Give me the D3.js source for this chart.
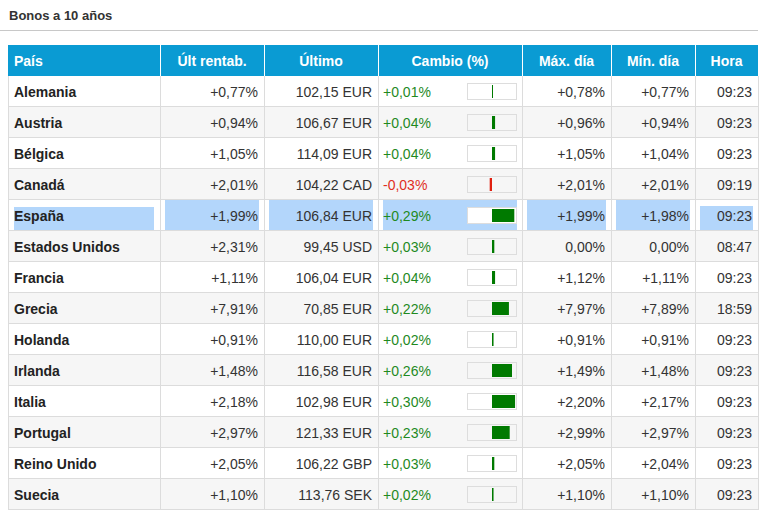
<!DOCTYPE html>
<html lang="es">
<head>
	<meta charset="utf-8">
	<title>Bonos a 10 años</title>
	<script src="https://d3js.org/d3.v7.min.js"></script>
	<style type="text/css">
		body { margin: 0; background: #fff; }
		svg text { font-family: "Liberation Sans", Arial, Helvetica, sans-serif; }
	</style>
</head>
<body>
<script type="text/javascript">

	var paises     = ["Alemania", "Austria", "Bélgica", "Canadá", "España", "Estados Unidos", "Francia",
	                  "Grecia", "Holanda", "Irlanda", "Italia", "Portugal", "Reino Unido", "Suecia"];
	var ultRentab  = ["+0,77%", "+0,94%", "+1,05%", "+2,01%", "+1,99%", "+2,31%", "+1,11%",
	                  "+7,91%", "+0,91%", "+1,48%", "+2,18%", "+2,97%", "+2,05%", "+1,10%"];
	var ultimo     = ["102,15 EUR", "106,67 EUR", "114,09 EUR", "104,22 CAD", "106,84 EUR", "99,45 USD", "106,04 EUR",
	                  "70,85 EUR", "110,00 EUR", "116,58 EUR", "102,98 EUR", "121,33 EUR", "106,22 GBP", "113,76 SEK"];
	var cambio     = [0.01, 0.04, 0.04, -0.03, 0.29, 0.03, 0.04, 0.22, 0.02, 0.26, 0.30, 0.23, 0.03, 0.02];
	var maxDia     = ["+0,78%", "+0,96%", "+1,05%", "+2,01%", "+1,99%", "0,00%", "+1,12%",
	                  "+7,97%", "+0,91%", "+1,49%", "+2,20%", "+2,99%", "+2,05%", "+1,10%"];
	var minDia     = ["+0,77%", "+0,94%", "+1,04%", "+2,01%", "+1,98%", "0,00%", "+1,11%",
	                  "+7,89%", "+0,91%", "+1,48%", "+2,17%", "+2,97%", "+2,04%", "+1,10%"];
	var hora       = ["09:23", "09:23", "09:23", "09:19", "09:23", "08:47", "09:23",
	                  "18:59", "09:23", "09:23", "09:23", "09:23", "09:23", "09:23"];
	var cabeceras  = ["País", "Últ rentab.", "Último", "Cambio (%)", "Máx. día", "Mín. día", "Hora"];
	var seleccion  = "España";

	// Layout
	var width = 764, height = 519;
	var colEdges = [8, 160, 264, 378, 522, 611, 695, 758];
	var headTop = 45, headH = 31, rowH = 31;
	var pad = 6;

	var svg = d3.select("body")
				.append("svg")
				.attr("width", width)
				.attr("height", height);

	// Title and rule
	svg.append("text")
		.attr("x", 9)
		.attr("y", 20)
		.style("font-size", "13px")
		.style("font-weight", "bold")
		.style("fill", "#333")
		.text("Bonos a 10 años");

	svg.append("line")
		.attr("x1", 0).attr("x2", 758)
		.attr("y1", 30.5).attr("y2", 30.5)
		.style("stroke", "#c8c8c8");

	// Row scale
	var yScale = d3.scaleBand()
		.domain(paises)
		.range([headTop + headH, headTop + headH + rowH * paises.length]);

	// Bar scale for Cambio (%) mini chart
	var boxX = colEdges[3] + 89, boxW = 50, boxH = 17;
	var xBar = d3.scaleLinear()
		.domain([-0.325, 0.325])
		.range([boxX, boxX + boxW]);

	/******** HEADER ************/
	svg.append("rect")
		.attr("x", colEdges[0])
		.attr("y", headTop)
		.attr("width", colEdges[7] - colEdges[0])
		.attr("height", headH)
		.style("fill", "#0a9bd3");

	svg.selectAll("line.hsep")
		.data(colEdges.slice(1, 7))
		.enter()
		.append("line")
		.attr("class", "hsep")
		.attr("x1", function(d) { return d + 0.5; })
		.attr("x2", function(d) { return d + 0.5; })
		.attr("y1", headTop)
		.attr("y2", headTop + headH)
		.style("stroke", "#fff");

	svg.selectAll("text.head")
		.data(cabeceras)
		.enter()
		.append("text")
		.attr("class", "head")
		.attr("x", function(d, i) {
			return i === 0 ? colEdges[0] + pad : (colEdges[i] + colEdges[i + 1]) / 2;
		})
		.attr("y", headTop + headH / 2 + 5)
		.attr("text-anchor", function(d, i) { return i === 0 ? "start" : "middle"; })
		.style("font-size", "14px")
		.style("font-weight", "bold")
		.style("fill", "#fff")
		.text(function(d) { return d; });

	/******** BODY ROWS ************/
	var rows = svg.selectAll("g.row")
		.data(paises)
		.enter()
		.append("g")
		.attr("class", "row")
		.attr("transform", function(d) { return "translate(0," + yScale(d) + ")"; });

	rows.append("rect")
		.attr("x", colEdges[0])
		.attr("width", colEdges[7] - colEdges[0])
		.attr("height", rowH)
		.style("fill", function(d, i) { return i % 2 === 1 ? "#f6f6f6" : "#fff"; });

	// Selection highlight (España)
	var sel = rows.filter(function(d) { return d === seleccion; });
	sel.selectAll("rect.hl")
		.data(d3.range(7))
		.enter()
		.append("rect")
		.attr("class", "hl")
		.attr("x", function(i) { return colEdges[i] + (i === 0 ? 6 : 5); })
		.attr("y", function(i) { return i === 0 ? 7 : (i === 6 ? 6 : 0); })
		.attr("width", function(i) { return colEdges[i + 1] - colEdges[i] - (i === 0 ? 12 : 10); })
		.attr("height", function(i) { return i === 0 ? 24 : (i === 6 ? 25 : 31); })
		.style("fill", "#b3d6fb");

	// Cell borders
	rows.append("line")
		.attr("x1", colEdges[0]).attr("x2", colEdges[7])
		.attr("y1", rowH - 0.5).attr("y2", rowH - 0.5)
		.style("stroke", "#dcdcdc");

	svg.selectAll("line.vsep")
		.data(colEdges)
		.enter()
		.append("line")
		.attr("class", "vsep")
		.attr("x1", function(d) { return d + 0.5; })
		.attr("x2", function(d) { return d + 0.5; })
		.attr("y1", headTop + headH)
		.attr("y2", yScale.range()[1])
		.style("stroke", "#dcdcdc");

	var midY = rowH / 2 + 5;

	// País
	rows.append("text")
		.attr("x", colEdges[0] + pad)
		.attr("y", midY)
		.style("font-size", "14px")
		.style("font-weight", "bold")
		.style("fill", "#222")
		.text(function(d) { return d; });

	// Right aligned numeric columns
	var numCols = [[1, ultRentab], [2, ultimo], [4, maxDia], [5, minDia], [6, hora]];
	numCols.forEach(function(c) {
		rows.append("text")
			.attr("x", colEdges[c[0] + 1] - pad)
			.attr("y", midY)
			.attr("text-anchor", "end")
			.style("font-size", "14px")
			.style("fill", "#333")
			.text(function(d, i) { return c[1][i]; });
	});

	// Cambio (%) text
	function fmt(v) {
		return (v < 0 ? "-" : "+") + d3.format(".2f")(Math.abs(v)).replace(".", ",") + "%";
	}
	rows.append("text")
		.attr("x", colEdges[3] + 5)
		.attr("y", midY)
		.style("font-size", "14px")
		.style("fill", function(d, i) { return cambio[i] < 0 ? "#e0301e" : "#1f8a1f"; })
		.text(function(d, i) { return fmt(cambio[i]); });

	// Cambio (%) mini bar
	rows.append("rect")
		.attr("x", boxX + 0.5)
		.attr("y", (rowH - boxH) / 2 + 0.5)
		.attr("width", boxW - 1)
		.attr("height", boxH - 1)
		.style("fill", function(d) { return d === seleccion ? "#fff" : "none"; })
		.style("stroke", "#dddddd");

	rows.append("rect")
		.attr("x", function(d, i) { return Math.min(xBar(0), xBar(cambio[i])); })
		.attr("y", (rowH - boxH) / 2 + 2)
		.attr("width", function(d, i) { return Math.max(1, Math.abs(xBar(cambio[i]) - xBar(0))); })
		.attr("height", boxH - 4)
		.style("fill", function(d, i) { return cambio[i] < 0 ? "#e02010" : "#007a00"; });

</script>
</body>
</html>
